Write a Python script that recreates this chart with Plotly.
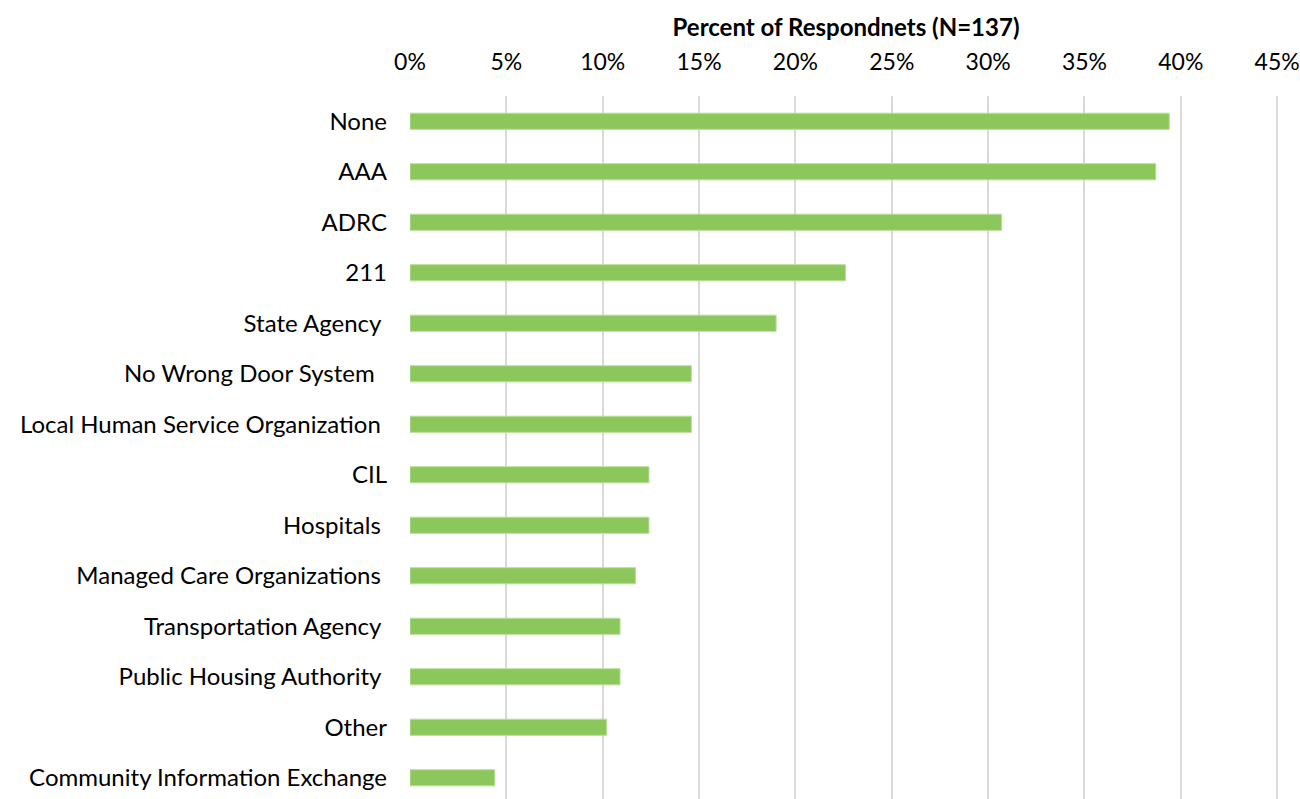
import plotly.graph_objects as go

# Sources respondents reported (top to bottom)
categories = [
    "None",
    "AAA",
    "ADRC",
    "211",
    "State Agency ",
    "No Wrong Door System  ",
    "Local Human Service Organization ",
    "CIL",
    "Hospitals ",
    "Managed Care Organizations ",
    "Transportation Agency ",
    "Public Housing Authority ",
    "Other",
    "Community Information Exchange",
]
# Share of respondents (N=137)
shares = [0.394, 0.387, 0.307, 0.226, 0.190, 0.146, 0.146, 0.124, 0.124, 0.117,
          0.109, 0.109, 0.102, 0.044]
x_ticks = [0.0, 0.05, 0.10, 0.15, 0.20, 0.25, 0.30, 0.35, 0.40, 0.45]
x_title = "Percent of Respondnets (N=137)"

FONT = "Lato, 'Open Sans', sans-serif"

# keep the trailing spaces visible in the rendered labels
display_labels = [c.replace(" ", "\u00a0") for c in categories]

fig = go.Figure(
    go.Bar(
        x=shares,
        y=display_labels,
        orientation="h",
        width=0.32,
        marker=dict(color="#8cc75c", line=dict(color="#b9df9b", width=1)),
        hoverinfo="skip",
    )
)

fig.update_layout(
    width=1300,
    height=799,
    margin=dict(l=410, r=18, t=96, b=0),
    paper_bgcolor="white",
    plot_bgcolor="white",
    showlegend=False,
    font=dict(family=FONT, size=24, color="#000000"),
    xaxis=dict(
        side="top",
        range=[0, 0.4525],
        tickvals=x_ticks,
        tickformat=".0%",
        showgrid=True,
        gridcolor="#d9d9d9",
        gridwidth=2,
        zeroline=False,
        showline=False,
        ticks="",
        ticklabelstandoff=20,
        ticklabeloverflow="allow",
        tickfont=dict(family=FONT, size=23, color="#000000"),
        title=dict(
            text="<b>" + x_title + "</b>",
            font=dict(family=FONT, size=24, color="#000000"),
            standoff=4,
        ),
        fixedrange=True,
    ),
    yaxis=dict(
        autorange=False,
        range=[13.42, -0.5],
        showgrid=False,
        zeroline=False,
        showline=False,
        ticks="",
        ticklabelstandoff=22,
        tickfont=dict(family=FONT, size=24, color="#000000"),
        fixedrange=True,
    ),
)

fig.write_html("out.html")
